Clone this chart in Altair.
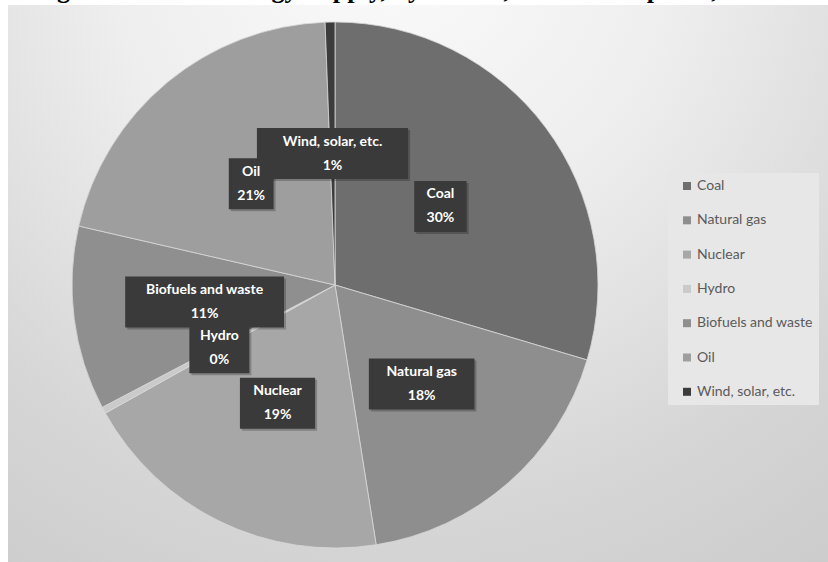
import altair as alt
import pandas as pd

# ---- data ----
categories = ["Coal", "Natural gas", "Nuclear", "Hydro", "Biofuels and waste", "Oil", "Wind, solar, etc."]
shares = [29.6, 17.9, 19.4, 0.4, 11.3, 20.8, 0.6]
colors = ["#6e6e6e", "#8e8e8e", "#a7a7a7", "#cacaca", "#8f8f8f", "#9e9e9e", "#3c3c3c"]
title_text = "Figure 3. World Energy Supply, by Source, World Compared, 2015"

df = pd.DataFrame({"source": categories, "share": shares, "order": list(range(len(categories)))})

W, H = 820, 557
CX, CY = 327, 280          # pie centre inside the plot area
R = 263                     # pie radius (px)
xs = alt.Scale(domain=[-CX, W - CX], range=[0, W], nice=False, zero=False)
ys = alt.Scale(domain=[-(H - CY), CY], range=[H, 0], nice=False, zero=False)

bg = alt.Chart(pd.DataFrame({"k": [0]})).mark_rect(
    fill=alt.Gradient(
        gradient="radial",
        x1=0.47, y1=0.08, r1=0.0,
        x2=0.47, y2=0.08, r2=1.0,
        stops=[
            alt.GradientStop(color="#fbfbfb", offset=0),
            alt.GradientStop(color="#eeeeee", offset=0.35),
            alt.GradientStop(color="#d6d6d6", offset=0.7),
            alt.GradientStop(color="#c9c9c9", offset=1),
        ],
    )
).encode(opacity=alt.value(1))

pie = alt.Chart(df).mark_arc(outerRadius=R, stroke="#d8d8d8", strokeWidth=0.8).encode(
    theta=alt.Theta("share:Q", stack=True),
    order=alt.Order("order:Q"),
    x=alt.X(datum=0, type="quantitative", scale=xs, axis=None),
    y=alt.Y(datum=0, type="quantitative", scale=ys, axis=None),
    color=alt.Color(
        "source:N",
        sort=categories,
        scale=alt.Scale(domain=categories, range=colors),
        legend=alt.Legend(
            title=None, orient="none", legendX=660, legendY=168,
            symbolType="square", symbolSize=64, symbolStrokeWidth=0,
            symbolOffset=6, labelOffset=3,
            labelFont="Lato", labelFontSize=14, labelColor="#5a5a5a",
            fillColor="#e7e7e7", padding=6, rowPadding=20.3,
        ),
    ),
)

lab = alt.Chart(df).transform_window(
    cum="sum(share)", sort=[alt.SortField("order")], frame=[None, 0]
).transform_joinaggregate(
    total="sum(share)"
).transform_calculate(
    mid="(datum.cum - datum.share / 2) / datum.total * 2 * PI",
    lx=f"{R / 2} * sin(datum.mid)",
    ly=f"{R / 2} * cos(datum.mid)",
    hw="(length(datum.source) * 7.6 + 22) / 2",
    bx1="datum.lx - datum.hw",
    bx2="datum.lx + datum.hw",
    by1="datum.ly - 25.5",
    by2="datum.ly + 25.5",
    sx1="datum.bx1 + 2", sx2="datum.bx2 + 2",
    sy1="datum.by1 - 2", sy2="datum.by2 - 2",
    pct="format(round(datum.share / datum.total * 100), 'd') + '%'",
)

shadow = lab.mark_rect(color="#000000", opacity=0.22).encode(
    x=alt.X("sx1:Q", scale=xs, axis=None), x2="sx2:Q",
    y=alt.Y("sy1:Q", scale=ys, axis=None), y2="sy2:Q",
)
boxes = lab.mark_rect(color="#3a3a3a").encode(
    x=alt.X("bx1:Q", scale=xs, axis=None), x2="bx2:Q",
    y=alt.Y("by1:Q", scale=ys, axis=None), y2="by2:Q",
)
name_txt = lab.mark_text(font="Lato", fontWeight="bold", fontSize=14, color="white",
                         dy=-12, baseline="middle").encode(
    x=alt.X("lx:Q", scale=xs, axis=None), y=alt.Y("ly:Q", scale=ys, axis=None), text="source:N")
pct_txt = lab.mark_text(font="Lato", fontWeight="bold", fontSize=14, color="white",
                        dy=12, baseline="middle").encode(
    x=alt.X("lx:Q", scale=xs, axis=None), y=alt.Y("ly:Q", scale=ys, axis=None), text="pct:N")

title = alt.Chart(pd.DataFrame({"t": [title_text]})).mark_text(
    font="Liberation Serif", fontWeight="bold", fontSize=26, color="#000000",
    align="left", baseline="alphabetic",
).encode(x=alt.value(26), y=alt.value(-7), text="t:N")

chart = alt.layer(bg, pie, shadow, boxes, name_txt, pct_txt, title).properties(
    width=W, height=H,
    autosize=alt.AutoSizeParams(type="none"),
    padding={"left": 8, "top": 5, "right": 0, "bottom": 0},
    background="white",
).configure_view(stroke=None)

chart.save("out.html", embed_options={"renderer": "svg", "actions": False})
